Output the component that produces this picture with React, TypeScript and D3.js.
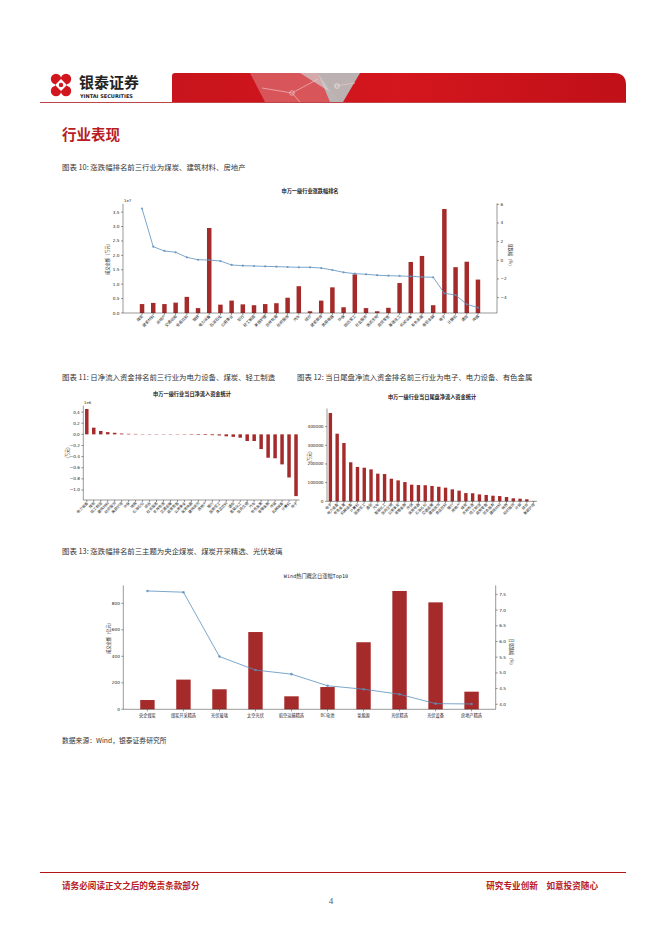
import React from "react";
import * as d3 from "d3";

// ---------- Chart 10 data ----------
const ind10 = ["煤炭","建筑材料","房地产","交通运输","食品饮料","钢铁","电力设备","石油石化","公用事业","银行","轻工制造","美容护理","农林牧渔","纺织服饰","汽车","综合","建筑装饰","家用电器","环保","国防军工","社会服务","医药生物","商贸零售","基础化工","机械设备","有色金属","非银金融","电子","计算机","通信","传媒"];
const amount10 = [0.31,0.35,0.31,0.36,0.56,0.17,2.95,0.29,0.43,0.30,0.27,0.31,0.34,0.53,0.93,0.06,0.43,0.89,0.20,1.34,0.17,0.06,0.18,1.04,1.77,1.98,0.27,3.61,1.59,1.78,1.16];
const pct10 = [5.54,1.46,1.0,0.86,0.32,0.06,0.03,-0.08,-0.5,-0.58,-0.61,-0.65,-0.68,-0.72,-0.75,-0.75,-0.83,-1.04,-1.29,-1.43,-1.5,-1.6,-1.65,-1.68,-1.72,-1.79,-1.82,-3.54,-3.72,-4.72,-5.08];
const ticksL10 = [0,0.5,1.0,1.5,2.0,2.5,3.0,3.5];
const ticksR10 = [-4,-2,0,2,4,6];

// ---------- Chart 11 data ----------
const ind11 = ["电力设备","煤炭","轻工制造","建筑材料","纺织服饰","美容护理","环保","钢铁","石油石化","综合","社会服务","农林牧渔","交通运输","商贸零售","公用事业","家用电器","建筑装饰","房地产","银行","国防军工","食品饮料","通信","基础化工","医药生物","汽车","有色金属","非银金融","传媒","机械设备","计算机","电子"];
const flow11 = [0.456,0.12,0.06,0.04,0.028,0.015,0.01,0.008,0.005,0.003,0.001,0.0,-0.002,-0.004,-0.006,-0.008,-0.01,-0.012,-0.015,-0.02,-0.035,-0.045,-0.06,-0.12,-0.12,-0.265,-0.42,-0.43,-0.54,-0.775,-1.11];
const ticks11 = [-1.0,-0.8,-0.6,-0.4,-0.2,0.0,0.2,0.4];

// ---------- Chart 12 data ----------
const ind12 = ["电子","电力设备","有色金属","机械设备","计算机","国防军工","通信","汽车","基础化工","医药生物","公用事业","非银金融","传媒","家用电器","石油石化","交通运输","建筑装饰","食品饮料","银行","房地产","煤炭","农林牧渔","轻工制造","商贸零售","社会服务","建筑材料","钢铁","纺织服饰","环保","综合","美容护理"];
const tail12 = [473000,362000,312000,209000,184000,180000,171000,148000,146000,121000,112000,103000,89000,87000,86000,82000,78000,73000,64000,57000,44000,43000,37000,34000,30000,28000,23000,16000,14000,11000,1000];
const ticks12 = [0,100000,200000,300000,400000];

// ---------- Chart 13 data ----------
const concepts13 = ["央企煤炭","煤炭开采精选","光伏玻璃","太空光伏","航空运输精选","BC电池","氢能源","光伏精选","光伏设备","房地产精选"];
const amount13 = [70,224,151,583,98,168,506,893,807,133];
const pct13 = [7.61,7.57,5.52,5.09,4.96,4.59,4.48,4.32,4.02,4.01];
const ticksL13 = [0,200,400,600,800];
const ticksR13 = [4.0,4.5,5.0,5.5,6.0,6.5,7.0,7.5];

const BAR = "#a52a2a";
const LINE = "#5b8fbd";
const AX = "#333";
const CJK = "'Noto Sans CJK SC', 'Noto Sans', sans-serif";
const TFS = 4.2;

function LeftAxis({ x, scale, ticks, fmt }: any) {
  const r = scale.range();
  return (
    <g>
      <line x1={x} x2={x} y1={r[0]} y2={r[1]} stroke={AX} strokeWidth={0.5} />
      {ticks.map((t: number, i: number) => (
        <g key={i}>
          <line x1={x - 2} x2={x} y1={scale(t)} y2={scale(t)} stroke={AX} strokeWidth={0.5} />
          <text x={x - 3.5} y={scale(t) + 1.5} fontSize={TFS} textAnchor="end" fill="#222" fontFamily="DejaVu Sans">{fmt(t)}</text>
        </g>
      ))}
    </g>
  );
}
function RightAxis({ x, scale, ticks, fmt }: any) {
  const r = scale.range();
  return (
    <g>
      <line x1={x} x2={x} y1={r[0]} y2={r[1]} stroke={AX} strokeWidth={0.5} />
      {ticks.map((t: number, i: number) => (
        <g key={i}>
          <line x1={x} x2={x + 2} y1={scale(t)} y2={scale(t)} stroke={AX} strokeWidth={0.5} />
          <text x={x + 3.5} y={scale(t) + 1.5} fontSize={TFS} textAnchor="start" fill="#222" fontFamily="DejaVu Sans">{fmt(t)}</text>
        </g>
      ))}
    </g>
  );
}
function RotLabels({ names, xs, y, fs = 3.8 }: any) {
  return (
    <g>
      {names.map((n: string, i: number) => (
        <g key={i}>
          <line x1={xs(i)} x2={xs(i)} y1={y - 3} y2={y - 1} stroke={AX} strokeWidth={0.5} />
          <text transform={`translate(${xs(i) + 1.5},${y + 0.5}) rotate(-45)`} fontSize={fs} textAnchor="end" fill="#222" fontFamily={CJK}>{n}</text>
        </g>
      ))}
    </g>
  );
}

function Chart10() {
  const x = d3.scaleLinear().domain([-1.7, 31.7]).range([123, 497]);
  const yL = d3.scaleLinear().domain([0, 3.79]).range([313, 203.8]);
  const yR = d3.scaleLinear().domain([-5.65, 6.1]).range([313, 203.4]);
  const bw = 0.4 * (x(1) - x(0));
  const line = d3.line<number>().x((_, i) => x(i)).y((d) => yR(d));
  return (
    <g>
      <text x={310} y={193} fontSize={5.2} fontWeight="bold" textAnchor="middle" fontFamily={CJK} fill="#222">申万一级行业涨跌幅排名</text>
      {amount10.map((v, i) => (
        <rect key={i} x={x(i) - bw / 2} y={yL(v)} width={bw} height={yL(0) - yL(v)} fill={BAR} />
      ))}
      <path d={line(pct10) || ""} fill="none" stroke={LINE} strokeWidth={0.8} />
      {pct10.map((v, i) => (
        <circle key={i} cx={x(i)} cy={yR(v)} r={1.1} fill={LINE} fillOpacity={0.8} />
      ))}
      <LeftAxis x={123} scale={yL} ticks={ticksL10} fmt={(t: number) => t.toFixed(1)} />
      <RightAxis x={497} scale={yR} ticks={ticksR10} fmt={(t: number) => (t < 0 ? "−" + Math.abs(t) : String(t))} />
      <line x1={123} x2={497} y1={313} y2={313} stroke={AX} strokeWidth={0.5} />
      <text x={124} y={201.5} fontSize={3.8} fontFamily="DejaVu Sans" fill="#222">1e7</text>
      <RotLabels names={ind10} xs={x} y={316} />
      <text transform="translate(109,258) rotate(-90)" fontSize={4.2} textAnchor="middle" fontFamily={CJK} fill="#222">成交金额（万元）</text>
      <text transform="translate(509,256) rotate(90)" fontSize={4.2} textAnchor="middle" fontFamily={CJK} fill="#222">涨跌幅（%）</text>
    </g>
  );
}

function Chart11() {
  const x = d3.scaleLinear().domain([-0.5, 30.5]).range([83.3, 299.5]);
  const y = d3.scaleLinear().domain([-1.18, 0.515]).range([500, 405.7]);
  const bw = 0.5 * (x(1) - x(0));
  return (
    <g>
      <text x={192} y={396} fontSize={5.2} fontWeight="bold" textAnchor="middle" fontFamily={CJK} fill="#222">申万一级行业当日净流入资金统计</text>
      {flow11.map((v, i) => (
        <rect key={i} x={x(i) - bw / 2} y={Math.min(y(v), y(0))} width={bw} height={Math.max(Math.abs(y(v) - y(0)), 0.3)} fill={BAR} />
      ))}
      <LeftAxis x={83.3} scale={y} ticks={ticks11} fmt={(t: number) => (t < 0 ? "−" + Math.abs(t).toFixed(1) : t.toFixed(1))} />
      <line x1={83.3} x2={299.5} y1={500} y2={500} stroke={AX} strokeWidth={0.5} />
      <text x={84} y={403.5} fontSize={3.8} fontFamily="DejaVu Sans" fill="#222">1e6</text>
      <RotLabels names={ind11} xs={x} y={503} fs={3.6} />
      <text transform="translate(69,453) rotate(-90)" fontSize={4.2} textAnchor="middle" fontFamily={CJK} fill="#222">(万元)</text>
    </g>
  );
}

function Chart12() {
  const x = d3.scaleLinear().domain([-0.5, 30.5]).range([327, 537]);
  const y = d3.scaleLinear().domain([0, 497000]).range([501.3, 408.5]);
  const bw = 0.5 * (x(1) - x(0));
  return (
    <g>
      <text x={432} y={399} fontSize={5.2} fontWeight="bold" textAnchor="middle" fontFamily={CJK} fill="#222">申万一级行业当日尾盘净流入资金统计</text>
      {tail12.map((v, i) => (
        <rect key={i} x={x(i) - bw / 2} y={y(v)} width={bw} height={y(0) - y(v)} fill={BAR} />
      ))}
      <LeftAxis x={327} scale={y} ticks={ticks12} fmt={(t: number) => String(t)} />
      <line x1={327} x2={537} y1={501.3} y2={501.3} stroke={AX} strokeWidth={0.5} />
      <RotLabels names={ind12} xs={x} y={504.3} fs={3.6} />
      <text transform="translate(311,457) rotate(-90)" fontSize={4.2} textAnchor="middle" fontFamily={CJK} fill="#222">(万元)</text>
    </g>
  );
}

function Chart13() {
  const x = d3.scaleLinear().domain([-0.67, 9.67]).range([123.3, 495.7]);
  const yL = d3.scaleLinear().domain([0, 935]).range([709.3, 585.4]);
  const yR = d3.scaleLinear().domain([3.84, 7.79]).range([709.3, 585.3]);
  const bw = 0.4 * (x(1) - x(0));
  const line = d3.line<number>().x((_, i) => x(i)).y((d) => yR(d));
  return (
    <g>
      <text x={316} y={578} fontSize={5.2} textAnchor="middle" fontFamily="'DejaVu Sans Mono', 'Noto Sans CJK SC'" fill="#222">Wind热门概念日涨幅Top10</text>
      {amount13.map((v, i) => (
        <rect key={i} x={x(i) - bw / 2} y={yL(v)} width={bw} height={yL(0) - yL(v)} fill={BAR} />
      ))}
      <path d={line(pct13) || ""} fill="none" stroke={LINE} strokeWidth={0.8} />
      {pct13.map((v, i) => (
        <circle key={i} cx={x(i)} cy={yR(v)} r={1.3} fill={LINE} fillOpacity={0.8} />
      ))}
      <LeftAxis x={123.3} scale={yL} ticks={ticksL13} fmt={(t: number) => String(t)} />
      <RightAxis x={495.7} scale={yR} ticks={ticksR13} fmt={(t: number) => t.toFixed(1)} />
      <line x1={123.3} x2={495.7} y1={709.3} y2={709.3} stroke={AX} strokeWidth={0.5} />
      {concepts13.map((n, i) => (
        <g key={i}>
          <line x1={x(i)} x2={x(i)} y1={709.3} y2={711.3} stroke={AX} strokeWidth={0.5} />
          <text x={x(i)} y={716.5} fontSize={4.2} textAnchor="middle" fontFamily={CJK} fill="#222">{n}</text>
        </g>
      ))}
      <text transform="translate(110,637) rotate(-90)" fontSize={4.2} textAnchor="middle" fontFamily={CJK} fill="#222">成交金额（亿元）</text>
      <text transform="translate(510,653) rotate(90)" fontSize={4.2} textAnchor="middle" fontFamily={CJK} fill="#222">日涨跌幅（%）</text>
    </g>
  );
}

function Header() {
  return (
    <g>
      <defs>
        <linearGradient id="bannerGrad" x1="0" x2="1" y1="0" y2="0">
          <stop offset="0" stopColor="#c8141c" />
          <stop offset="0.5" stopColor="#d4161e" />
          <stop offset="1" stopColor="#c01018" />
        </linearGradient>
      </defs>
      {/* logo icon */}
      <g transform="translate(61,85)">
        <circle cx={-5} cy={-6} r={5.2} fill="#d2161e" />
        <circle cx={5} cy={-6} r={5.2} fill="#d2161e" />
        <circle cx={-5} cy={6} r={5.2} fill="#d2161e" />
        <circle cx={5} cy={6} r={5.2} fill="#d2161e" />
        <rect x={-6} y={-6} width={12} height={12} fill="#d2161e" />
        <rect x={-4.2} y={-4.2} width={8.4} height={8.4} fill="#fff" transform="rotate(45)" />
        <circle cx={0} cy={0} r={2.2} fill="#d2161e" />
      </g>
      <text x={79} y={88} fontSize={15} fontWeight="bold" fontFamily={CJK} fill="#222">银泰证券</text>
      <text x={80} y={98} fontSize={5} fontWeight="bold" fontFamily="'DejaVu Sans', sans-serif" fill="#222">YINTAI SECURITIES</text>
      <path d="M172,102 L172,76 Q172,73 175,73 L614,73 Q626,73 626,85 L626,102 Z" fill="url(#bannerGrad)" />
      <polygon points="250,73 318,73 340,102 265,102" fill="#e08a8c" opacity={0.55} />
      <polygon points="318,73 360,73 343,102 330,102" fill="#b9b9b9" opacity={0.95} />
      <polygon points="300,73 318,73 330,92" fill="#d0d0d0" opacity={0.7} />
      <path d="M262,88 L292,93 L318,79 M292,93 L300,102 M335,86 L355,83" stroke="#f4c9ca" strokeWidth={0.7} fill="none" opacity={0.9} />
      <circle cx={292} cy={93} r={2.3} fill="none" stroke="#f4c9ca" strokeWidth={0.7} />
      <circle cx={337} cy={86} r={2.3} fill="none" stroke="#eee" strokeWidth={0.7} />
      <line x1={40} x2={626} y1={102.5} y2={102.5} stroke="#b0151c" strokeWidth={0.8} />
    </g>
  );
}

export default function App() {
  const captionFont = "'Noto Sans CJK SC', serif";
  return (
    <div style={{ position: "absolute", left: 0, top: 0, width: 662, height: 936, background: "#fff" }}>
      <svg width={662} height={936} viewBox="0 0 662 936" style={{ display: "block" }}>
        <rect width={662} height={936} fill="#fff" />
        <Header />
        <text x={62} y={140} fontSize={14.5} fontWeight="bold" fill="#b81c24" fontFamily={CJK}>行业表现</text>
        <text x={62} y={170} fontSize={7.4} fill="#333" fontFamily={captionFont}>图表 10: 涨跌幅排名前三行业为煤炭、建筑材料、房地产</text>
        <Chart10 />
        <text x={62} y={380} fontSize={7.4} fill="#333" fontFamily={captionFont}>图表 11: 日净流入资金排名前三行业为电力设备、煤炭、轻工制造</text>
        <text x={297} y={380} fontSize={7.4} fill="#333" fontFamily={captionFont}>图表 12: 当日尾盘净流入资金排名前三行业为电子、电力设备、有色金属</text>
        <Chart11 />
        <Chart12 />
        <text x={62} y={554} fontSize={7.4} fill="#333" fontFamily={captionFont}>图表 13: 涨跌幅排名前三主题为央企煤炭、煤炭开采精选、光伏玻璃</text>
        <Chart13 />
        <text x={62} y={743} fontSize={6.8} fill="#333" fontFamily={captionFont}>数据来源：Wind，银泰证券研究所</text>
        <line x1={40} x2={626} y1={872.5} y2={872.5} stroke="#b0151c" strokeWidth={1.2} />
        <text x={62} y={889} fontSize={8.6} fontWeight="bold" fill="#b81c24" fontFamily={CJK}>请务必阅读正文之后的免责条款部分</text>
        <text x={598} y={889} fontSize={8.6} fontWeight="bold" fill="#b81c24" textAnchor="end" fontFamily={CJK} xmlSpace="preserve">研究专业创新　如意投资随心</text>
        <text x={331} y={904} fontSize={9} fill="#555" textAnchor="middle" fontFamily="'Liberation Serif', serif">4</text>
      </svg>
    </div>
  );
}
